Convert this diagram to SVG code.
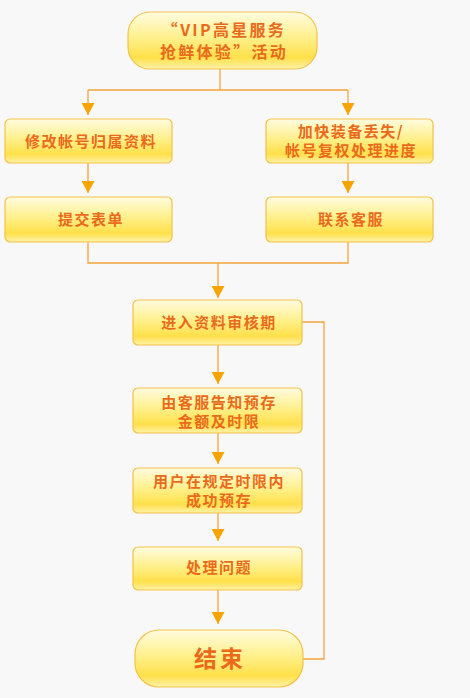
<svg xmlns="http://www.w3.org/2000/svg" width="470" height="698" viewBox="0 0 470 698">
<defs>
<linearGradient id="g" x1="0" y1="0" x2="0" y2="1">
<stop offset="0" stop-color="#fffce0"/>
<stop offset="0.45" stop-color="#fff08c"/>
<stop offset="0.8" stop-color="#ffe04a"/>
<stop offset="1" stop-color="#fff2a8"/>
</linearGradient>
<marker id="ad" markerWidth="14" markerHeight="13" refX="13" refY="7" orient="auto" markerUnits="userSpaceOnUse" viewBox="0 0 13 14">
<path d="M0,0 L13,7 L0,14 Z" fill="#f7a400"/>
</marker>
</defs>
<style>
.box{fill:url(#g);stroke:#f4c24a;stroke-width:1.2}
.t{font-family:"Noto Sans CJK SC","Liberation Sans",sans-serif;font-weight:bold;fill:#ea6a1c;text-anchor:middle;font-size:15px;letter-spacing:1.5px}
.big{font-size:16px;letter-spacing:2.3px}
.end{font-size:23px;letter-spacing:3px}
.c{fill:none;stroke:#f3a43a;stroke-width:1.3}
</style>
<rect width="470" height="698" fill="#f8f8f8"/>
<g id="connectors">
<path class="c" d="M220,69 V90 M88,90 H348"/>
<line class="c" x1="88" y1="90" x2="88" y2="115" marker-end="url(#ad)"/>
<line class="c" x1="348" y1="90" x2="348" y2="115" marker-end="url(#ad)"/>
<line class="c" x1="88" y1="163" x2="88" y2="193" marker-end="url(#ad)"/>
<line class="c" x1="348" y1="163" x2="348" y2="193" marker-end="url(#ad)"/>
<path class="c" d="M88,242 V263 H348 V242"/>
<line class="c" x1="218" y1="263" x2="218" y2="298" marker-end="url(#ad)"/>
<line class="c" x1="218" y1="345" x2="218" y2="384" marker-end="url(#ad)"/>
<line class="c" x1="218" y1="433" x2="218" y2="464" marker-end="url(#ad)"/>
<line class="c" x1="218" y1="513" x2="218" y2="541" marker-end="url(#ad)"/>
<line class="c" x1="218" y1="590" x2="218" y2="624" marker-end="url(#ad)"/>
<path class="c" d="M302,322 H324 V659 H303"/>
</g>
<g id="start">
<rect class="box" x="128" y="12" width="189" height="57" rx="22"/>
<text class="t big" x="224" y="36">“VIP高星服务</text>
<text class="t big" x="224" y="58">抢鲜体验”活动</text>
</g>
<g id="n1">
<rect class="box" x="5" y="119" width="167" height="44" rx="5"/>
<text class="t" x="91" y="147">修改帐号归属资料</text>
</g>
<g id="n2">
<rect class="box" x="266" y="119" width="167" height="44" rx="5"/>
<text class="t" x="351" y="137">加快装备丢失/</text>
<text class="t" x="351" y="156">帐号复权处理进度</text>
</g>
<g id="n3">
<rect class="box" x="5" y="197" width="167" height="45" rx="5"/>
<text class="t" x="91" y="225">提交表单</text>
</g>
<g id="n4">
<rect class="box" x="266" y="197" width="167" height="45" rx="5"/>
<text class="t" x="351" y="225">联系客服</text>
</g>
<g id="n5">
<rect class="box" x="133" y="300" width="169" height="45" rx="5"/>
<text class="t" x="219" y="328">进入资料审核期</text>
</g>
<g id="n6">
<rect class="box" x="133" y="388" width="169" height="45" rx="5"/>
<text class="t" x="219" y="408">由客服告知预存</text>
<text class="t" x="219" y="427">金额及时限</text>
</g>
<g id="n7">
<rect class="box" x="133" y="468" width="169" height="45" rx="5"/>
<text class="t" x="219" y="487">用户在规定时限内</text>
<text class="t" x="219" y="506">成功预存</text>
</g>
<g id="n8">
<rect class="box" x="133" y="547" width="169" height="43" rx="5"/>
<text class="t" x="219" y="573">处理问题</text>
</g>
<g id="end">
<rect class="box" x="135" y="630" width="168" height="57" rx="24"/>
<text class="t end" x="220" y="667">结束</text>
</g>
</svg>
